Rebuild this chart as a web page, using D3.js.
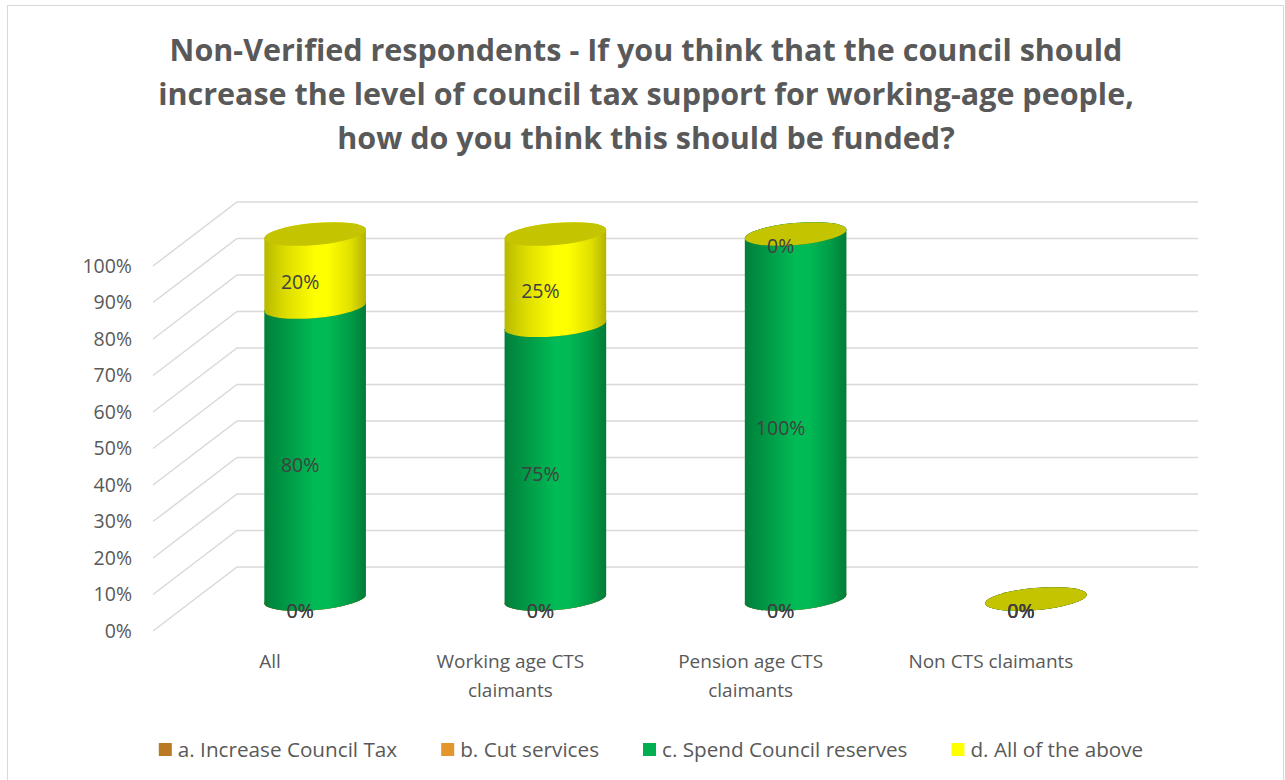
<!DOCTYPE html>
<html>
<head>
<meta charset="utf-8">
<script src="https://cdn.jsdelivr.net/npm/d3@7/dist/d3.min.js"></script>
<style>
  html, body { margin: 0; padding: 0; background: #ffffff; }
  svg { display: block; font-family: "Open Sans", "Noto Sans", sans-serif; }
</style>
</head>
<body>
<svg id="chart" width="1285" height="780"></svg>
<script>
// ---- data ----
const categories = ["All", "Working age CTS claimants", "Pension age CTS claimants", "Non CTS claimants"];
const seriesNames = ["a. Increase Council Tax", "b. Cut services", "c. Spend Council reserves", "d. All of the above"];
const increaseCouncilTax = [0, 0, 0, 0];
const cutServices = [0, 0, 0, 0];
const spendCouncilReserves = [0.80, 0.75, 1.00, 0];
const allOfTheAbove = [0.20, 0.25, 0, 0];
const tickValues = [0, 0.1, 0.2, 0.3, 0.4, 0.5, 0.6, 0.7, 0.8, 0.9, 1.0];
const titleLines = [
  "Non-Verified respondents - If you think that the council should",
  "increase the level of council tax support for working-age people,",
  "how do you think this should be funded?"
];
const seriesColors = ["#BA7A24", "#E3962B", "#00B050", "#FFFF00"];

// ---- layout ----
const svg = d3.select("#chart");
const back = { left: 237, right: 1198, bottom: 567, top: 202 };
const depth = { dx: -84, dy: 64 };           // back wall -> front edge offset
const mid = { dx: depth.dx / 2, dy: depth.dy / 2 };
const cyl = { rx: 51, ry: 11, tilt: -5 };     // cylinder ellipse geometry

const y = d3.scaleLinear().domain([0, 1]).range([back.bottom, back.top]);
const x = d3.scalePoint().domain(categories).range([back.left, back.right]).padding(0.5);
const pct = d3.format(".0%");

const rows = categories.map((c, i) => ({
  category: c,
  [seriesNames[0]]: increaseCouncilTax[i],
  [seriesNames[1]]: cutServices[i],
  [seriesNames[2]]: spendCouncilReserves[i],
  [seriesNames[3]]: allOfTheAbove[i]
}));
const stacked = d3.stack().keys(seriesNames)(rows);
const color = d3.scaleOrdinal().domain(seriesNames).range(seriesColors);

// chart border
svg.append("rect")
  .attr("x", 7.5).attr("y", 5.5).attr("width", 1276).attr("height", 800)
  .attr("fill", "#ffffff").attr("stroke", "#d9d9d9").attr("stroke-width", 1);

// title
svg.append("g").selectAll("text").data(titleLines).join("text")
  .attr("x", 646).attr("y", (d, i) => 61 + i * 44)
  .attr("text-anchor", "middle")
  .attr("font-size", 30.5).attr("font-weight", 700)
  .attr("fill", "#595959")
  .text(d => d);

// gridlines: side wall diagonals + back wall horizontals
const grid = svg.append("g").attr("fill", "none").attr("stroke", "#d9d9d9").attr("stroke-width", 1.5);
grid.selectAll("path").data(tickValues).join("path")
  .attr("d", t => d3.line()([
    [back.left + depth.dx, y(t) + depth.dy],
    [back.left, y(t)],
    [back.right, y(t)]
  ]));

// y axis labels at the front edge of the side wall
svg.append("g").selectAll("text").data(tickValues).join("text")
  .attr("x", 132).attr("y", t => y(t) + depth.dy)
  .attr("dy", "0.35em")
  .attr("text-anchor", "end")
  .attr("font-size", 19.5).attr("fill", "#595959")
  .text(t => pct(t));

// gradients for the cylinder bodies
const defs = svg.append("defs");
seriesColors.forEach((c, i) => {
  const base = d3.rgb(c);
  const g = defs.append("linearGradient").attr("id", "grad" + i)
    .attr("x1", "0%").attr("x2", "100%").attr("y1", "0%").attr("y2", "0%");
  const stops = [[0, 0.72], [0.2, 0.86], [0.5, 1.06], [0.62, 1.06], [0.85, 0.88], [1, 0.7]];
  stops.forEach(([o, k]) => {
    const s = d3.rgb(Math.min(255, base.r * k), Math.min(255, base.g * k), Math.min(255, base.b * k));
    g.append("stop").attr("offset", o).attr("stop-color", s.formatHex());
  });
});
const capColor = c => { const b = d3.rgb(c); return d3.rgb(b.r * 0.77, b.g * 0.77, b.b * 0.77).formatHex(); };

// cylinder geometry at the bar plane (half depth)
const rad = cyl.tilt * Math.PI / 180;
function endPoints(cx, cy) {
  const ex = cyl.rx * Math.cos(rad), ey = cyl.rx * Math.sin(rad);
  return { left: [cx - ex, cy - ey], right: [cx + ex, cy + ey] };
}
function bodyPath(cx, yTop, yBot) {
  const t = endPoints(cx, yTop), b = endPoints(cx, yBot);
  return `M${t.left}L${b.left}A${cyl.rx},${cyl.ry} ${cyl.tilt} 0 0 ${b.right}` +
         `L${t.right}A${cyl.rx},${cyl.ry} ${cyl.tilt} 0 0 ${t.left}Z`;
}

const bars = svg.append("g");
categories.forEach((cat, ci) => {
  const cx = x(cat) + mid.dx;
  stacked.forEach((layer, si) => {
    const [v0, v1] = layer[ci];
    const yTop = y(v1) + mid.dy, yBot = y(v0) + mid.dy;
    if (v1 > v0) {
      bars.append("path")
        .attr("d", bodyPath(cx, yTop, yBot))
        .attr("fill", `url(#grad${si})`);
    }
    bars.append("ellipse")
      .attr("cx", cx).attr("cy", yTop)
      .attr("rx", cyl.rx).attr("ry", cyl.ry)
      .attr("transform", `rotate(${cyl.tilt},${cx},${yTop})`)
      .attr("fill", capColor(color(layer.key)));
  });
});

// data labels on the front face of each segment
const labels = svg.append("g");
categories.forEach((cat, ci) => {
  const cx = x(cat) + mid.dx;
  stacked.forEach(layer => {
    const [v0, v1] = layer[ci];
    labels.append("text")
      .attr("x", cx - 15).attr("y", y((v0 + v1) / 2) + mid.dy + cyl.ry + 1)
      .attr("dy", "0.35em").attr("text-anchor", "middle")
      .attr("font-size", 19.5).attr("fill", "#404040")
      .text(pct(v1 - v0));
  });
});

// category labels at the front edge, wrapped
const catG = svg.append("g");
categories.forEach(cat => {
  const t = catG.append("text")
    .attr("x", x(cat) + depth.dx).attr("text-anchor", "middle")
    .attr("font-size", 19).attr("fill", "#595959");
  const words = cat.split(" ");
  let lines = [], line = [];
  const probe = t.append("tspan");
  words.forEach(w => {
    const trial = line.concat(w).join(" ");
    probe.text(trial);
    if (probe.node().getComputedTextLength() > 200 && line.length) {
      lines.push(line.join(" "));
      line = [w];
    } else line.push(w);
  });
  lines.push(line.join(" "));
  probe.remove();
  lines.forEach((l, i) => {
    t.append("tspan").attr("x", x(cat) + depth.dx - 3).attr("y", 661 + i * 29).attr("dy", "0.35em").text(l);
  });
});

// legend, centred below the plot
const legend = svg.append("g");
const items = seriesNames.map((name, i) => {
  const g = legend.append("g");
  g.append("rect").attr("width", 13).attr("height", 13).attr("y", -7).attr("fill", seriesColors[i]);
  const txt = g.append("text").attr("x", 19).attr("dy", "0.35em")
    .attr("font-size", 20.7).attr("fill", "#595959").text(name);
  return { g, w: 19 + txt.node().getComputedTextLength() };
});
const gap = 44;
const total = d3.sum(items, d => d.w) + gap * (items.length - 1);
let lx = 651 - total / 2;
items.forEach(it => { it.g.attr("transform", `translate(${lx},750)`); lx += it.w + gap; });
</script>
</body>
</html>
